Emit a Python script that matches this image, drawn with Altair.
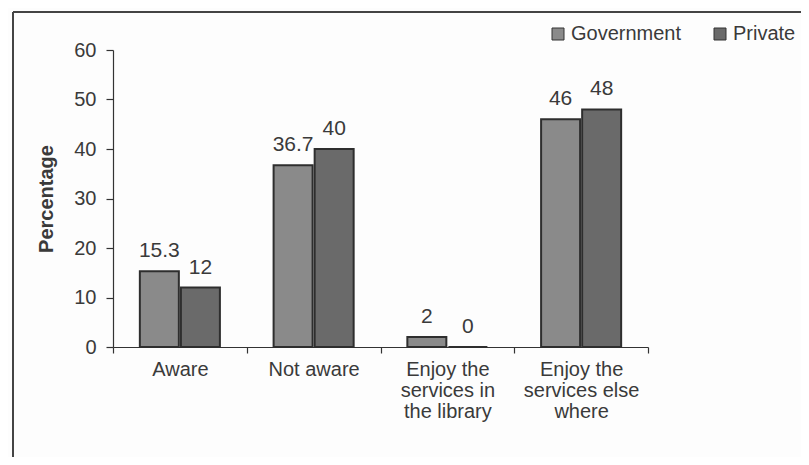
import altair as alt
import pandas as pd

categories = ["Aware", "Not aware", "Enjoy the\nservices in\nthe library", "Enjoy the\nservices else\nwhere"]
government = [15.3, 36.7, 2, 46]
private = [12, 40, 0, 48]
series = ["Government", "Private"]
y_ticks = [0, 10, 20, 30, 40, 50, 60]

rows = []
for c, g, p in zip(categories, government, private):
    rows.append({"cat": c, "series": "Government", "value": g})
    rows.append({"cat": c, "series": "Private", "value": p})
df = pd.DataFrame(rows)

FONT = "Liberation Sans"
TXT = "#3a3a3a"
AX = "#333333"

base = alt.Chart(df).encode(
    x=alt.X("cat:N", sort=categories,
            scale=alt.Scale(paddingInner=0, paddingOuter=0),
            axis=alt.Axis(title=None, labelAngle=0, labelExpr="split(datum.label, '\\n')",
                          labelFontSize=20, labelColor=TXT, labelFont=FONT, labelLineHeight=21,
                          labelPadding=6, tickBand="extent", tickSize=6, tickColor=AX,
                          tickWidth=1.2, domainWidth=1.2,
                          domainColor=AX, labelBaseline="top")),
    xOffset=alt.XOffset("series:N", sort=series,
                        scale=alt.Scale(paddingInner=0.05, paddingOuter=0.654)),
)

bars = base.mark_bar(stroke="#2e2e2e", strokeWidth=2).encode(
    y=alt.Y("value:Q", scale=alt.Scale(domain=[0, 60]),
            axis=alt.Axis(title="Percentage", values=y_ticks, grid=False,
                          titleFontSize=20, titleFont=FONT, titleColor=TXT, titleFontWeight="bold",
                          labelFontSize=20, labelFont=FONT, labelColor=TXT, tickSize=7,
                          tickWidth=1.2, domainWidth=1.2,
                          tickColor=AX, domainColor=AX, labelPadding=10, titlePadding=17)),
    color=alt.Color("series:N", sort=series,
                    scale=alt.Scale(domain=series, range=["#8a8a8a", "#6a6a6a"]),
                    legend=alt.Legend(title=None, orient="none", legendX=435, legendY=-26,
                                      direction="horizontal", symbolType="square", symbolSize=144,
                                      symbolStrokeColor="#333", symbolStrokeWidth=1,
                                      labelFontSize=20, labelFont=FONT, labelColor=TXT,
                                      columnPadding=28, labelOffset=3, symbolFillColor="#555")),
)

labels = base.mark_text(dy=-14, baseline="alphabetic", fontSize=21, font=FONT, color=TXT).encode(
    y=alt.Y("value:Q"),
    text=alt.Text("value:Q"),
)

border_left = alt.Chart(df).mark_rule(color="#444", strokeWidth=2).encode(
    x=alt.value(-100), y=alt.value(-38), y2=alt.value(420))
border_top = alt.Chart(df).mark_rule(color="#444", strokeWidth=1.5).encode(
    x=alt.value(-100), x2=alt.value(700), y=alt.value(-38))

chart = alt.layer(bars, labels, border_left, border_top).properties(
    width=535, height=297,
    autosize=alt.AutoSizeParams(type="none"),
    padding={"left": 105, "top": 42, "right": 153, "bottom": 110},
    background="#fdfdfd",
).configure_view(stroke=None)

chart.save("out.html", embed_options={"renderer": "svg", "actions": False})
